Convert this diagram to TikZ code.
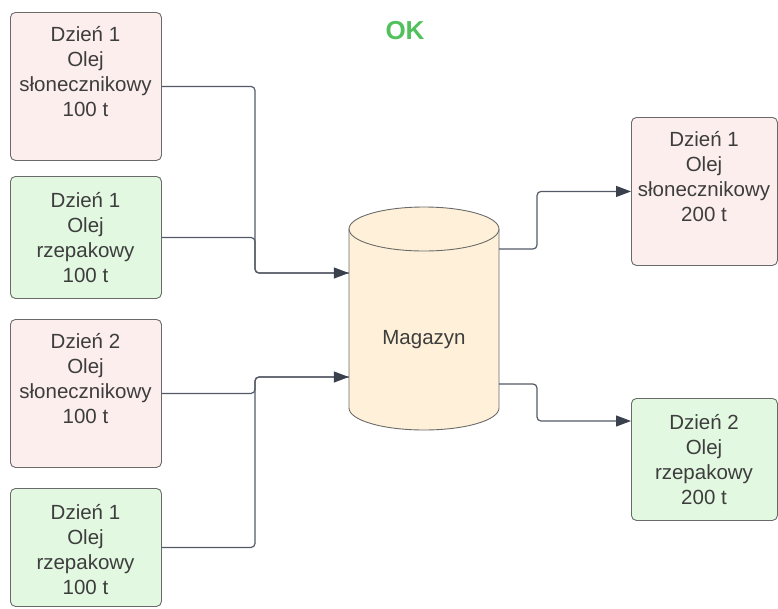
\documentclass[tikz,border=0pt]{standalone}
\usepackage{fontspec}
\setmainfont{Liberation Sans}
\usetikzlibrary{arrows.meta,calc}
\definecolor{pinkfill}{HTML}{FDEEEE}
\definecolor{greenfill}{HTML}{E2F8E1}
\definecolor{cylfill}{HTML}{FFF1D9}
\definecolor{bordergray}{HTML}{6A6A6A}
\definecolor{txtgray}{HTML}{3D3D3D}
\definecolor{linegray}{HTML}{535965}
\definecolor{tipgray}{HTML}{3A414D}
\definecolor{okgreen}{HTML}{52C05C}
\begin{document}
\begin{tikzpicture}[x=1pt,y=-1pt,
  boxbase/.style={draw=bordergray,line width=0.9pt,rounded corners=5pt,inner sep=0pt,anchor=north west},
  pinkbox/.style={boxbase,fill=pinkfill},
  greenbox/.style={boxbase,fill=greenfill},
  txt/.style={text=txtgray,align=center,font=\fontsize{20.5}{25}\selectfont,inner sep=0pt},
  conn/.style={draw=linegray,line width=1.2pt,rounded corners=4pt},
  arr/.style={conn,-{Triangle[length=15pt,width=11pt,color=tipgray]}}
]
\useasboundingbox (0,0) rectangle (778,608);
% left boxes
\node[pinkbox,minimum width=151pt,minimum height=148pt] (b1) at (10,12) {};
\node[txt] (b1t) at (85.5,71.5) {Dzień 1\\Olej\\słonecznikowy\\100 t};
\node[greenbox,minimum width=151pt,minimum height=122pt] (b2) at (10,176) {};
\node[txt] (b2t) at (85.5,237.5) {Dzień 1\\Olej\\rzepakowy\\100 t};
\node[pinkbox,minimum width=151pt,minimum height=148pt] (b3) at (10,319) {};
\node[txt] (b3t) at (85.5,378.5) {Dzień 2\\Olej\\słonecznikowy\\100 t};
\node[greenbox,minimum width=151pt,minimum height=118pt] (b4) at (10,488) {};
\node[txt] (b4t) at (85.5,549.5) {Dzień 1\\Olej\\rzepakowy\\100 t};
% right boxes
\node[pinkbox,minimum width=146pt,minimum height=148pt] (r1) at (631,117) {};
\node[txt] (r1t) at (704,176.5) {Dzień 1\\Olej\\słonecznikowy\\200 t};
\node[greenbox,minimum width=146pt,minimum height=122pt] (r2) at (631,398) {};
\node[txt] (r2t) at (704,459.5) {Dzień 2\\Olej\\rzepakowy\\200 t};
% cylinder
\path[fill=cylfill,draw=bordergray,line width=0.9pt]
  (349,229) -- (349,408) arc[start angle=180,end angle=0,x radius=75,y radius=22]
  -- (499,229) arc[start angle=0,end angle=-180,x radius=75,y radius=22] -- cycle;
\draw[bordergray,line width=0.9pt] (349,229) arc[start angle=180,end angle=0,x radius=75,y radius=22];
\node[minimum width=150pt,minimum height=223pt,inner sep=0pt] (mag) at (424,318.5) {};
\node[txt] (magt) at (424,340) {Magazyn};
% title
\node[text=okgreen,font=\fontsize{26}{30}\selectfont\bfseries,inner sep=0pt] (ok) at (405,31) {OK};
% connection points
\coordinate (in1) at ($(mag.west)+(0,-45.5)$);
\coordinate (in2) at ($(mag.west)+(0,58.5)$);
\coordinate (o1) at ($(mag.east)+(0,-69.5)$);
\coordinate (o2) at ($(mag.east)+(0,65.5)$);
\coordinate (jl) at (255,0);
\coordinate (jr) at (537,0);
\coordinate (r1in) at (r1.west);
\coordinate (r2in) at ($(r2.north west)+(0,23)$);
% connectors
\draw[conn] (b1.east) -| (jl |- in1) -- (in1);
\draw[arr] (b2.east) -| (jl |- in1) -- (in1);
\draw[conn] (b3.east) -| (jl |- in2) -- (in2);
\draw[arr] (b4.east) -| (jl |- in2) -- (in2);
\draw[arr] (o1) -| (jr |- r1in) -- (r1in);
\draw[arr] (o2) -| (jr |- r2in) -- (r2in);
\end{tikzpicture}
\end{document}
